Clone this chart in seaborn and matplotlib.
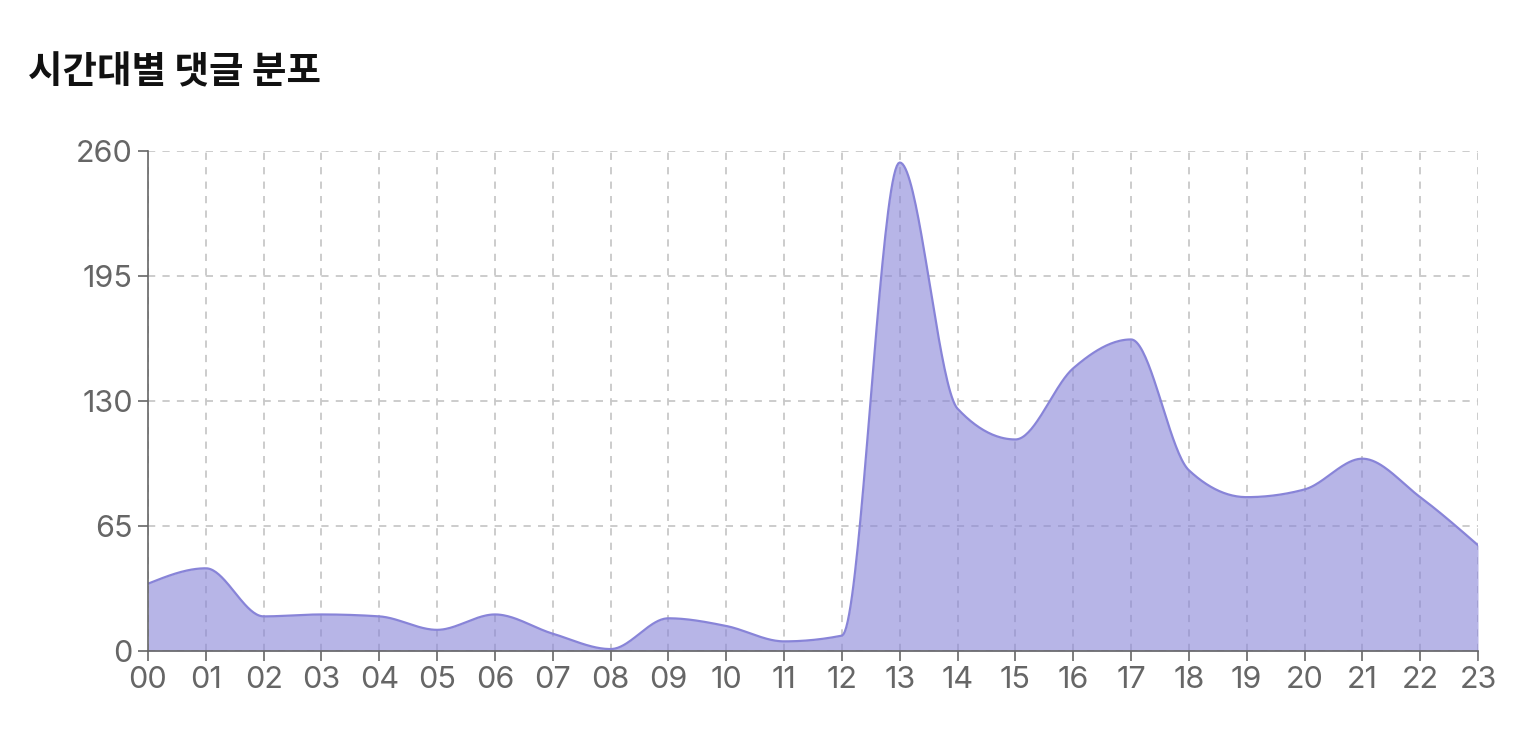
import numpy as np
import pandas as pd
import matplotlib
matplotlib.use("Agg")
import matplotlib.pyplot as plt
import seaborn as sns

hours = ["00","01","02","03","04","05","06","07","08","09","10","11",
         "12","13","14","15","16","17","18","19","20","21","22","23"]
comments = [35, 43, 18, 19, 18, 11, 19, 9, 1, 17, 13, 5,
            8, 254, 126, 110, 147, 162, 94, 80, 84, 100, 80, 55]
y_ticks = [0, 65, 130, 195, 260]
title = "시간대별 댓글 분포"

def monotone_x(x, y, n=40):
    """d3 curveMonotoneX (Steffen) rendering of a series."""
    x = np.asarray(x, float); y = np.asarray(y, float)
    m = len(x)
    h = np.diff(x); s = np.diff(y) / h
    t = np.zeros(m)
    for i in range(1, m - 1):
        h0, h1, s0, s1 = h[i-1], h[i], s[i-1], s[i]
        p = (s0 * h1 + s1 * h0) / (h0 + h1)
        v = (np.sign(s0) + np.sign(s1)) * min(abs(s0), abs(s1), 0.5 * abs(p))
        t[i] = v if v != 0 else 0.0
    t[0] = (3 * s[0] - t[1]) / 2
    t[-1] = (3 * s[-1] - t[-2]) / 2
    xs, ys = [], []
    for i in range(m - 1):
        u = np.linspace(0, 1, n, endpoint=(i == m - 2))
        dx = h[i]
        h00 = 2*u**3 - 3*u**2 + 1
        h10 = u**3 - 2*u**2 + u
        h01 = -2*u**3 + 3*u**2
        h11 = u**3 - u**2
        xs.append(x[i] + u * dx)
        ys.append(h00*y[i] + h10*dx*t[i] + h01*y[i+1] + h11*dx*t[i+1])
    return np.concatenate(xs), np.concatenate(ys)

sns.set_theme(style="white")
plt.rcParams["font.family"] = ["Inter", "DejaVu Sans"]

fig = plt.figure(figsize=(15.34, 7.38), dpi=100)
ax = fig.add_axes([148/1534, 1 - 651/738, (1478-148)/1534, (651-151)/738])

xpos = np.arange(len(hours))
cx, cy = monotone_x(xpos, comments)
df = pd.DataFrame({"x": cx, "y": cy})

stroke = "#8884d8"
ax.fill_between(df["x"], 0, df["y"], color=stroke, alpha=0.6, linewidth=0, zorder=2)
sns.lineplot(data=df, x="x", y="y", ax=ax, color=stroke, linewidth=1.6, zorder=3)

ax.set_xlim(0, len(hours) - 1)
ax.set_ylim(0, 260)
ax.set_xticks(xpos)
ax.set_xticklabels(hours)
ax.set_yticks(y_ticks)
ax.set_yticklabels([str(v) for v in y_ticks])
ax.set_xlabel("")
ax.set_ylabel("")

ax.grid(True, color="#c8c8c8", linestyle=(0, (4, 4)), linewidth=1.3, zorder=0)
ax.set_axisbelow(True)
for sp in ["top", "right"]:
    ax.spines[sp].set_visible(False)
for sp in ["left", "bottom"]:
    ax.spines[sp].set_color("#666666")
    ax.spines[sp].set_linewidth(1.2)
    ax.spines[sp].set_zorder(4)

ax.tick_params(axis="both", which="major", direction="out", length=7, width=1.2,
               color="#666666", labelcolor="#666666", labelsize=22, pad=4,
               bottom=True, left=True)

fig.text(28/1534, 1 - 72/738, title, ha="left", va="center", fontsize=27,
         fontweight="bold", color="#111111",
         family=["Noto Sans CJK KR", "DejaVu Sans"])

fig.savefig("out.png", dpi=100, facecolor="white")
